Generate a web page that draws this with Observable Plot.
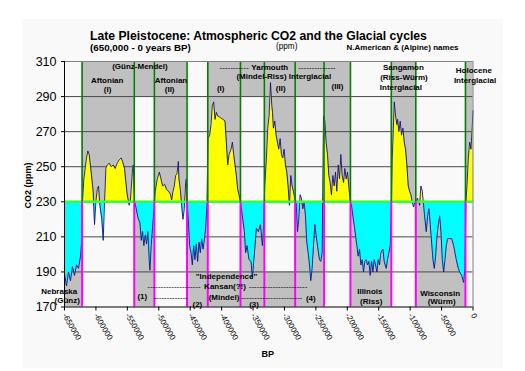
<!DOCTYPE html>
<html><head><meta charset="utf-8">
<script src="https://cdn.jsdelivr.net/npm/d3@7"></script>
<script src="https://cdn.jsdelivr.net/npm/@observablehq/plot@0.6"></script>
<style>
body{margin:0;background:#fff;}
#wrap{position:relative;width:525px;height:371px;overflow:hidden;font-family:"Liberation Sans",Arial,sans-serif;}
#bg{position:absolute;left:22px;top:19px;width:481px;height:349px;background:#f9f9f9;}
#chart{position:absolute;left:0;top:0;}
</style></head><body>
<div id="wrap"><div id="bg"></div><div id="chart"></div></div>
<script>
// CO2 record (years BP, ppm)
const bp = [-650000,-646800,-643700,-640500,-637300,-634100,-630900,-627700,-624500,-622400,-621400,-619200,-615000,-612900,-610700,-607600,-604400,-602200,-600100,-598000,-595900,-593700,-590600,-588400,-586300,-584200,-582100,-578900,-575700,-572500,-569300,-566100,-562900,-559800,-557600,-554500,-552300,-550200,-547000,-544900,-541700,-540600,-539600,-538500,-536400,-533200,-530000,-527900,-525800,-523700,-521500,-519400,-517300,-515200,-514100,-512000,-509800,-507700,-505600,-502400,-499200,-497100,-493900,-490700,-487500,-484400,-481200,
-479500,-477400,-475300,-473200,-471000,-468900,-467900,-465700,-463600,-461500,-459400,-457200,-456200,-455100,-453000,-450900,-448700,-446600,-444500,-442400,-440300,-438100,-436000,-433900,-431800,-429600,-427500,-425400,-423300,-421700,-419000,-416900,-414800,-412600,-410500,-408400,-406300,-402000,-397800,-394600,-392500,-390300,-388200,-385000,-382900,-380800,-378700,-376500,-374400,-372300,-370200,-367000,-363800,-361700,-359500,-356400,-353200,-351000,-348900,-346800,-344700,-341500,-338300,-335100,-333000,-331400,-328700,-326600,-324500,-322200,-320200,-319000,
-317600,-315400,-313300,-311200,-309100,-306900,-304800,-302700,-300600,-298400,-296300,-294200,-292100,-289900,-287800,-285700,-283600,-281400,-279300,-277200,-275100,-273000,-270800,-268700,-266600,-264500,-262300,-260200,-258100,-256000,-253800,-251700,-249600,-247500,-244300,-242200,-240000,-237900,-235800,-233700,-231500,-229400,-227300,-225200,-223000,-220900,-218800,-216700,-214500,-212400,-210300,-208200,-206000,-203900,-201800,-199700,-197600,-195400,-193300,-191200,-189100,-186900,-184800,-182700,-180600,-178400,-176300,-174200,-172100,-169900,-167800,-165700,-163600,-161400,-159300,-157200,-155100,-152900,-150800,-148700,
-146600,-143400,-141300,-138100,-136000,-133800,-131700,-129600,-128500,-127500,-125300,-123200,-121100,-120000,-117900,-115800,-113700,-111500,-109400,-107300,-105200,-103000,-100900,-98800,-96700,-94500,-92400,-90300,-88200,-85000,-82900,-80700,-78600,-76500,-74400,-72200,-70100,-68000,-65900,-63700,-61600,-59500,-57400,-55200,-53100,-51000,-48900,-46700,-44600,-42500,-40400,-37200,-34000,-30800,-28700,-26600,-23400,-21300,-18100,-14900,-12800,-11200,-9600,-7500,-5300,-3200,-1100,0];
const co2 = [189,182,190,185,193,188,194,192,199,209,230,243,255,259,257,247,236,217,230,237,239,228,220,208,230,249,251,252,250,251,249,252,254,255,253,249,241,234,228,232,249,251,239,230,227,221,218,208,213,205,211,206,213,197,191,205,216,225,236,243,247,244,239,240,237,236,234,
231,236,239,245,246,253,243,237,228,220,226,241,243,230,220,205,201,194,205,197,206,196,207,201,209,203,208,215,228,266,268,274,285,287,277,281,279,278,277,276,264,251,257,260,264,257,251,245,237,234,230,222,213,201,205,197,196,186,196,205,215,213,217,205,217,239,255,272,279,298,285,281,
272,276,268,264,260,266,257,255,260,251,247,239,228,245,239,236,232,230,213,220,234,232,226,230,222,207,201,194,185,192,205,217,211,205,197,196,201,279,276,264,257,245,241,234,245,239,247,236,251,243,257,245,241,249,243,247,239,230,228,222,217,211,205,199,203,194,197,190,196,197,194,196,188,196,190,197,194,190,197,194,
201,203,196,192,197,201,205,230,255,264,287,279,274,277,270,276,268,272,264,260,251,239,236,234,230,227,230,230,232,228,239,236,228,220,213,222,226,217,207,197,192,199,210,217,222,213,197,190,197,205,209,209,209,205,201,197,192,190,188,184,192,230,239,255,264,260,274,282];

// period boundaries (years BP)
const interStart = [-622000,-507000,-422000,-332000,-237000,-130000,-12000];
const interEnd   = [-539000,-455000,-370000,-283000,-195000,-91000,0];
const glacStart  = [-650000,-539000,-455000,-370000,-283000,-195000,-91000];
const glacEnd    = [-622000,-507000,-422000,-332000,-237000,-130000,-12000];
const topBandStart = [-539000,-370000,-283000];
const topBandEnd   = [-507000,-332000,-237000];
const lowBandStart = [-422000,-332000];
const lowBandEnd   = [-370000,-283000];
const boundaries = [-622000,-539000,-507000,-455000,-422000,-370000,-332000,-283000,-237000,-195000,-130000,-91000,-12000];

const yTicks = [170,190,210,230,250,270,290,310];
const gridLines = [190,210,250,270,290];
const xTicks = [-650000,-600000,-550000,-500000,-450000,-400000,-350000,-300000,-250000,-200000,-150000,-100000,-50000,0];

// annotations
const labText = ["(Günz-Mendel)","Aftonian","(I)","Aftonian","(II)","Yarmouth","(Mindel-Riss) Interglacial","(I)","(II)","(III)","Sangamon","(Riss-Würm)","Interglacial","Holocene","Interglacial",
  "Nebraska","(Günz)","(1)","\"Independence\"","Kansan(?!)","(Mindel)","(4)","(2)","(3)","Illinois","(Riss)","Wisconsin","(Würm)"];
const labBP = [-530000,-582000,-581500,-480500,-482700,-323400,-301100,-401500,-305900,-215600,-110700,-109900,-114700,1300,3200,
  -658400,-645700,-526200,-392200,-394600,-396200,-258100,-438600,-348400,-164100,-162000,-52300,-49900];
const labCO2 = [307.1,299.1,293.8,299.1,294.0,306.7,301.6,294.7,294.4,295.5,306.4,300.7,295.3,304.9,299.1,
  178.6,174.0,176.3,187.7,182.0,175.7,174.8,171.6,171.3,178.6,173.4,177.8,172.9];
const dashText = ["-----------","--------------","--------------------","----------------------","-------------","-----------------------"];
const dashBP = [-380000,-248500,-475900,-310200,-481000,-320500];
const dashCO2 = [306.7,306.7,182.0,182.0,175.7,175.7];

const curve = bp.map((x,i)=>({x, y: co2[i]}));
const rects = [];
interStart.forEach((s,i)=>rects.push({x1:s,x2:interEnd[i],y1:230,y2:310}));
glacStart.forEach((s,i)=>rects.push({x1:s,x2:glacEnd[i],y1:170,y2:230}));
topBandStart.forEach((s,i)=>rects.push({x1:s,x2:topBandEnd[i],y1:290,y2:310}));
lowBandStart.forEach((s,i)=>rects.push({x1:s,x2:lowBandEnd[i],y1:170,y2:190}));
const labs = labText.map((t,i)=>({t,x:labBP[i],y:labCO2[i]}));
const dashes = dashText.map((t,i)=>({t,x:dashBP[i],y:dashCO2[i]}));

const plot = Plot.plot({
  width: 525, height: 371,
  marginLeft: 64, marginRight: 52.5, marginTop: 61, marginBottom: 64.5,
  style: {background: "transparent", fontFamily: "Liberation Sans, Arial, sans-serif", color: "#000", overflow: "visible"},
  x: {domain: [-650000, 0]},
  y: {domain: [170, 310]},
  marks: [
    Plot.rect(rects, {x1:"x1", x2:"x2", y1:"y1", y2:"y2", fill:"#c0c0c0"}),
    Plot.ruleY(gridLines, {stroke:"#4a4a4a", strokeWidth:1}),
    Plot.areaY(curve, {x:"x", y1:230, y2:"y", fill:"#ffff00"}),
    Plot.areaY(curve, {x:"x", y1:230, y2:"y", fill:"#00ffff"}),
    Plot.line(curve, {x:"x", y:"y", stroke:"#10108c", strokeWidth:0.9}),
    Plot.ruleY([230], {stroke:"#33ff33", strokeWidth:2.5}),
    Plot.ruleX(boundaries, {y1:230, y2:310, stroke:"#008000", strokeWidth:1.6}),
    Plot.ruleX(boundaries, {y1:170, y2:230, stroke:"#ff00ff", strokeWidth:2}),
    Plot.ruleY([310], {stroke:"#808080"}),
    Plot.ruleX([0], {stroke:"#808080"}),
    Plot.ruleY([170], {stroke:"#000"}),
    Plot.ruleX([-650000], {stroke:"#000"}),
    Plot.axisY({ticks: yTicks, tickSize: 3, tickPadding: 5, fontSize: 12.5, label: null}),
    Plot.axisX({ticks: xTicks, tickFormat: d => String(d), tickRotate: 60, tickSize: 4, tickPadding: 3, fontSize: 8, label: null}),
    Plot.text(dashes, {x:"x", y:"y", text:"t", fontSize:8, fill:"#000"}),
    Plot.text(labs, {x:"x", y:"y", text:"t", fontSize:8, fontWeight:"bold", fill:"#000"})
  ]
});
document.getElementById("chart").appendChild(plot);

// clip the yellow fill above 230 ppm and the cyan fill below it
const y230 = plot.scale("y").apply(230);
const svg = d3.select(plot);
const defs = svg.insert("defs", ":first-child");
defs.append("clipPath").attr("id","clipTop").append("rect").attr("x",0).attr("y",0).attr("width",525).attr("height",y230);
defs.append("clipPath").attr("id","clipBot").append("rect").attr("x",0).attr("y",y230).attr("width",525).attr("height",371-y230);
svg.selectAll("g").each(function(){
  const f = (this.getAttribute("fill")||"").toLowerCase();
  if (f === "#ffff00") this.setAttribute("clip-path","url(#clipTop)");
  if (f === "#00ffff") this.setAttribute("clip-path","url(#clipBot)");
});

// titles
const T = [
  {t:"Late Pleistocene: Atmospheric CO2 and the Glacial cycles", x:90, y:39.5, s:12.2, w:"bold"},
  {t:"(650,000 - 0 years BP)", x:90, y:51, s:9.8, w:"bold"},
  {t:"(ppm)", x:276, y:49, s:8.2, w:"normal"},
  {t:"N.American & (Alpine) names", x:346.5, y:49.5, s:8, w:"bold"},
  {t:"BP", x:261.5, y:356.5, s:9, w:"bold"}
];
T.forEach(d => svg.append("text").attr("x",d.x).attr("y",d.y).attr("font-size",d.s).attr("font-weight",d.w)
  .attr("text-anchor","start")
  .attr("font-family","Liberation Sans, Arial, sans-serif").attr("fill","#000").text(d.t));
svg.append("text").attr("transform","translate(30.5,185.5) rotate(-90)").attr("text-anchor","middle")
  .attr("font-size",9).attr("font-weight","bold").attr("font-family","Liberation Sans, Arial, sans-serif").attr("fill","#000").text("CO2 (ppm)");
</script>
</body></html>
